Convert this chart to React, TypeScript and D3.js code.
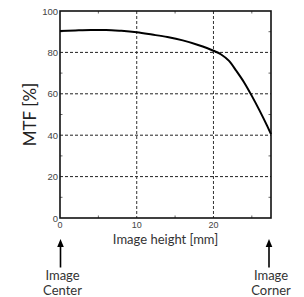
import { useEffect, useRef } from 'react';
import * as d3 from 'd3';

const imageHeight = [0, 2, 4, 6, 8, 10, 12, 14, 16, 18, 20, 21, 22, 23, 24, 25, 26, 27, 27.5];
const mtf = [90.3, 90.6, 90.8, 90.8, 90.4, 89.7, 88.6, 87.4, 85.8, 83.6, 80.8, 79, 76, 71, 65.5, 59, 52, 44.5, 40.5];
const xTicks = [0, 10, 20];
const xMinor = [5, 15, 25];
const yTicks = [0, 20, 40, 60, 80, 100];
const yMinor = [10, 30, 50, 70, 90];
const notes = [
  { at: 0, lines: ['Image', 'Center'] },
  { at: 27.5, lines: ['Image', 'Corner'] },
];

const W = 304;
const H = 297;
const margin = { top: 11, right: 33, bottom: 79, left: 60 };
const labelFont = 'Lato, "Open Sans", sans-serif';
const tickFont = '"Liberation Sans", Arial, sans-serif';

const App = () => {
  const ref = useRef<SVGSVGElement>(null);

  useEffect(() => {
    const svg = d3.select(ref.current);
    svg.selectAll('*').remove();

    const iw = W - margin.left - margin.right;
    const ih = H - margin.top - margin.bottom;

    const x = d3.scaleLinear().domain([0, 27.5]).range([0, iw]);
    const y = d3.scaleLinear().domain([0, 100]).range([ih, 0]);

    const g = svg.append('g').attr('transform', `translate(${margin.left},${margin.top})`);

    // grid
    g.selectAll('line.hgrid')
      .data(yTicks.filter((d) => d > 0 && d < 100))
      .enter()
      .append('line')
      .attr('x1', 0)
      .attr('x2', iw)
      .attr('y1', (d) => y(d))
      .attr('y2', (d) => y(d))
      .attr('stroke', '#222')
      .attr('stroke-width', 1)
      .attr('stroke-dasharray', '3,2');

    g.selectAll('line.vgrid')
      .data(xTicks.filter((d) => d > 0))
      .enter()
      .append('line')
      .attr('y1', 0)
      .attr('y2', ih)
      .attr('x1', (d) => x(d))
      .attr('x2', (d) => x(d))
      .attr('stroke', '#333')
      .attr('stroke-width', 1)
      .attr('stroke-dasharray', '3,2');

    // minor ticks (inside)
    const tl = 2.5;
    xMinor.forEach((v) => {
      g.append('line').attr('x1', x(v)).attr('x2', x(v)).attr('y1', 0).attr('y2', tl).attr('stroke', '#666');
      g.append('line').attr('x1', x(v)).attr('x2', x(v)).attr('y1', ih).attr('y2', ih - tl).attr('stroke', '#666');
    });
    yMinor.forEach((v) => {
      g.append('line').attr('y1', y(v)).attr('y2', y(v)).attr('x1', 0).attr('x2', tl).attr('stroke', '#666');
      g.append('line').attr('y1', y(v)).attr('y2', y(v)).attr('x1', iw).attr('x2', iw - tl).attr('stroke', '#666');
    });

    // frame
    g.append('rect')
      .attr('width', iw)
      .attr('height', ih)
      .attr('fill', 'none')
      .attr('stroke', '#111')
      .attr('stroke-width', 1.6);

    // curve
    const line = d3
      .line<number>()
      .x((d, i) => x(imageHeight[i]))
      .y((d) => y(d))
      .curve(d3.curveMonotoneX);

    g.append('path')
      .datum(mtf)
      .attr('d', line)
      .attr('fill', 'none')
      .attr('stroke', '#000')
      .attr('stroke-width', 2);

    // tick labels
    g.selectAll('text.yt')
      .data(yTicks)
      .enter()
      .append('text')
      .attr('x', -2)
      .attr('y', (d) => y(d) + 3.5)
      .attr('text-anchor', 'end')
      .attr('font-family', tickFont)
      .attr('font-size', 9.5)
      .attr('fill', '#444')
      .text((d) => d);

    g.selectAll('text.xt')
      .data(xTicks)
      .enter()
      .append('text')
      .attr('x', (d) => x(d))
      .attr('y', ih + 10)
      .attr('text-anchor', 'middle')
      .attr('font-family', tickFont)
      .attr('font-size', 9)
      .attr('fill', '#444')
      .text((d) => d);

    // axis titles
    g.append('text')
      .attr('x', iw / 2)
      .attr('y', ih + 25.5)
      .attr('text-anchor', 'middle')
      .attr('font-family', labelFont)
      .attr('font-size', 13)
      .attr('fill', '#333')
      .text('Image height [mm]');

    g.append('text')
      .attr('transform', `translate(${-24},${ih / 2}) rotate(-90)`)
      .attr('text-anchor', 'middle')
      .attr('font-family', labelFont)
      .attr('font-size', 17)
      .attr('fill', '#222')
      .text('MTF [%]');

    // arrows + notes
    notes.forEach((n) => {
      const cx = x(n.at) - (n.at > 0 ? 2 : -0.5);
      const tip = ih + 21;
      g.append('line')
        .attr('x1', cx)
        .attr('x2', cx)
        .attr('y1', tip + 6)
        .attr('y2', ih + 49.5)
        .attr('stroke', '#000')
        .attr('stroke-width', 1.6);
      g.append('path')
        .attr('d', `M${cx},${tip} L${cx - 3.3},${tip + 8} L${cx + 3.3},${tip + 8} Z`)
        .attr('fill', '#000');
      n.lines.forEach((t, i) => {
        g.append('text')
          .attr('x', cx + 2)
          .attr('y', ih + 61.5 + i * 15)
          .attr('text-anchor', 'middle')
          .attr('font-family', labelFont)
          .attr('font-size', 13)
          .attr('fill', '#333')
          .text(t);
      });
    });
  }, []);

  return (
    <svg
      ref={ref}
      width={W}
      height={H}
      style={{ position: 'absolute', left: 0, top: 0, background: '#fff' }}
    />
  );
};

export default App;
